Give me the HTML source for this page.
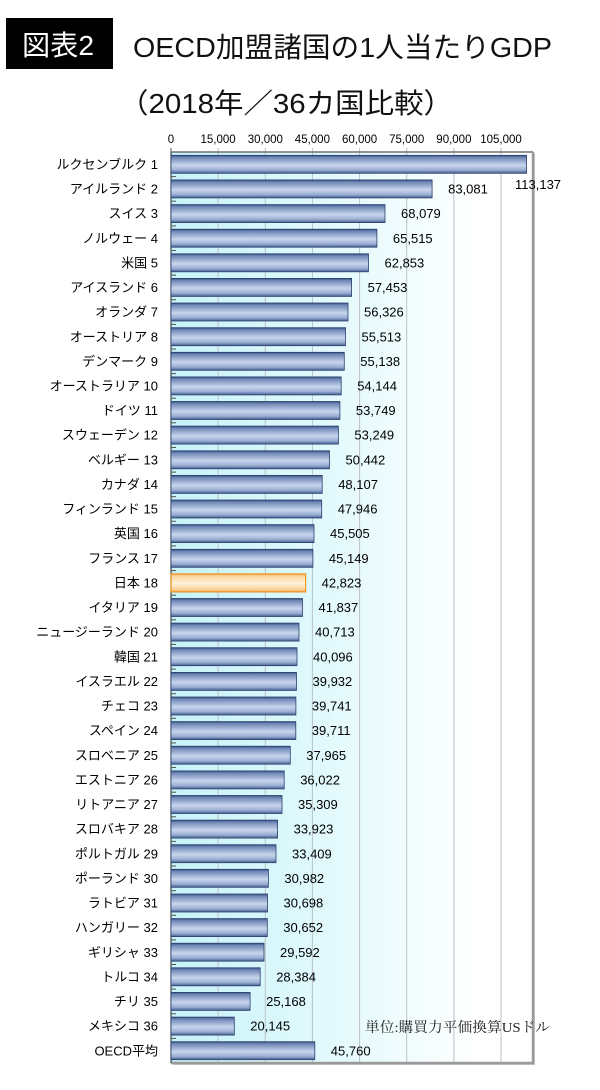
<!DOCTYPE html>
<html>
<head>
<meta charset="utf-8">
<style>
html,body{margin:0;padding:0;background:#fff;}
svg{display:block;}
.cat{font-family:"Liberation Sans","Noto Sans CJK JP",sans-serif;font-size:13px;fill:#000;}
.val{font-family:"Liberation Sans","Noto Sans CJK JP",sans-serif;font-size:13px;fill:#000;}
.ax{font-family:"Liberation Sans",sans-serif;font-size:11.5px;fill:#000;}
</style>
</head>
<body>
<svg width="600" height="1090" viewBox="0 0 600 1090" xmlns="http://www.w3.org/2000/svg">
<defs>
  <linearGradient id="bg" x1="0" y1="0" x2="1" y2="0">
    <stop offset="0" stop-color="#c6f3f9"/>
    <stop offset="0.55" stop-color="#eafbfd"/>
    <stop offset="0.85" stop-color="#ffffff"/>
    <stop offset="1" stop-color="#ffffff"/>
  </linearGradient>
  <linearGradient id="bar" x1="0" y1="0" x2="0" y2="1">
    <stop offset="0" stop-color="#34507f"/>
    <stop offset="0.12" stop-color="#7088b6"/>
    <stop offset="0.55" stop-color="#c8d5ed"/>
    <stop offset="0.82" stop-color="#9aaed3"/>
    <stop offset="1" stop-color="#445e8f"/>
  </linearGradient>
  <linearGradient id="jp" x1="0" y1="0" x2="0" y2="1">
    <stop offset="0" stop-color="#f4b060"/>
    <stop offset="0.15" stop-color="#fcd9a6"/>
    <stop offset="0.55" stop-color="#fff0da"/>
    <stop offset="0.85" stop-color="#fcd49c"/>
    <stop offset="1" stop-color="#f2aa58"/>
  </linearGradient>
</defs>

<!-- Header -->
<rect x="6" y="18" width="107" height="51" fill="#000"/>
<text x="22" y="55" font-family="'Liberation Sans','Noto Sans CJK JP',sans-serif" font-size="28" fill="#fff" textLength="72" lengthAdjust="spacingAndGlyphs">図表2</text>
<text x="133" y="57" font-family="'Liberation Sans','Noto Sans CJK JP',sans-serif" font-size="28" fill="#111" textLength="419" lengthAdjust="spacingAndGlyphs">OECD加盟諸国の1人当たりGDP</text>
<text x="119" y="113" font-family="'Liberation Sans','Noto Sans CJK JP',sans-serif" font-size="28" fill="#111" textLength="334" lengthAdjust="spacingAndGlyphs">（2018年／36カ国比較）</text>

<!-- Plot area -->
<rect x="173" y="154" width="362" height="911" fill="#c8c8c8"/>
<rect x="171" y="152" width="362" height="911" fill="url(#bg)"/>

<!-- gridlines -->
<g stroke="#b9c2c6" stroke-width="1">
  <line x1="218.1" y1="148" x2="218.1" y2="1063"/>
  <line x1="265.3" y1="148" x2="265.3" y2="1063"/>
  <line x1="312.4" y1="148" x2="312.4" y2="1063"/>
  <line x1="359.6" y1="148" x2="359.6" y2="1063"/>
  <line x1="406.7" y1="148" x2="406.7" y2="1063"/>
  <line x1="453.9" y1="148" x2="453.9" y2="1063"/>
  <line x1="501.0" y1="148" x2="501.0" y2="1063"/>
</g>
<line x1="171" y1="148" x2="171" y2="152" stroke="#555" stroke-width="1"/>

<!-- borders -->
<line x1="171" y1="152" x2="533" y2="152" stroke="#555" stroke-width="1.2"/>
<line x1="533" y1="152" x2="533" y2="1064" stroke="#9a9a9a" stroke-width="2.5"/>
<line x1="171" y1="1063" x2="534" y2="1063" stroke="#9a9a9a" stroke-width="2.5"/>
<line x1="171" y1="152" x2="171" y2="1063" stroke="#444" stroke-width="1.2"/>

<!-- left ticks -->
<g stroke="#555" stroke-width="1">
<line x1="171" y1="176.6" x2="176" y2="176.6"/>
<line x1="171" y1="201.2" x2="176" y2="201.2"/>
<line x1="171" y1="225.9" x2="176" y2="225.9"/>
<line x1="171" y1="250.5" x2="176" y2="250.5"/>
<line x1="171" y1="275.1" x2="176" y2="275.1"/>
<line x1="171" y1="299.7" x2="176" y2="299.7"/>
<line x1="171" y1="324.4" x2="176" y2="324.4"/>
<line x1="171" y1="349.0" x2="176" y2="349.0"/>
<line x1="171" y1="373.6" x2="176" y2="373.6"/>
<line x1="171" y1="398.2" x2="176" y2="398.2"/>
<line x1="171" y1="422.8" x2="176" y2="422.8"/>
<line x1="171" y1="447.5" x2="176" y2="447.5"/>
<line x1="171" y1="472.1" x2="176" y2="472.1"/>
<line x1="171" y1="496.7" x2="176" y2="496.7"/>
<line x1="171" y1="521.3" x2="176" y2="521.3"/>
<line x1="171" y1="545.9" x2="176" y2="545.9"/>
<line x1="171" y1="570.6" x2="176" y2="570.6"/>
<line x1="171" y1="595.2" x2="176" y2="595.2"/>
<line x1="171" y1="619.8" x2="176" y2="619.8"/>
<line x1="171" y1="644.4" x2="176" y2="644.4"/>
<line x1="171" y1="669.1" x2="176" y2="669.1"/>
<line x1="171" y1="693.7" x2="176" y2="693.7"/>
<line x1="171" y1="718.3" x2="176" y2="718.3"/>
<line x1="171" y1="742.9" x2="176" y2="742.9"/>
<line x1="171" y1="767.5" x2="176" y2="767.5"/>
<line x1="171" y1="792.2" x2="176" y2="792.2"/>
<line x1="171" y1="816.8" x2="176" y2="816.8"/>
<line x1="171" y1="841.4" x2="176" y2="841.4"/>
<line x1="171" y1="866.0" x2="176" y2="866.0"/>
<line x1="171" y1="890.7" x2="176" y2="890.7"/>
<line x1="171" y1="915.3" x2="176" y2="915.3"/>
<line x1="171" y1="939.9" x2="176" y2="939.9"/>
<line x1="171" y1="964.5" x2="176" y2="964.5"/>
<line x1="171" y1="989.1" x2="176" y2="989.1"/>
<line x1="171" y1="1013.8" x2="176" y2="1013.8"/>
<line x1="171" y1="1038.4" x2="176" y2="1038.4"/>
</g>

<!-- axis labels -->
<g class="ax" text-anchor="middle">
<text x="171" y="143">0</text>
<text x="218.1" y="143">15,000</text>
<text x="265.3" y="143">30,000</text>
<text x="312.4" y="143">45,000</text>
<text x="359.6" y="143">60,000</text>
<text x="406.7" y="143">75,000</text>
<text x="453.9" y="143">90,000</text>
<text x="501.0" y="143">105,000</text>
</g>

<!-- rows -->
<g stroke="#2b4170" stroke-width="0.8">
<rect x="171" y="155.3" width="355.6" height="18" fill="url(#bar)"/>
<rect x="171" y="179.9" width="261.1" height="18" fill="url(#bar)"/>
<rect x="171" y="204.6" width="214.0" height="18" fill="url(#bar)"/>
<rect x="171" y="229.2" width="205.9" height="18" fill="url(#bar)"/>
<rect x="171" y="253.8" width="197.5" height="18" fill="url(#bar)"/>
<rect x="171" y="278.4" width="180.6" height="18" fill="url(#bar)"/>
<rect x="171" y="303.0" width="177.0" height="18" fill="url(#bar)"/>
<rect x="171" y="327.7" width="174.5" height="18" fill="url(#bar)"/>
<rect x="171" y="352.3" width="173.3" height="18" fill="url(#bar)"/>
<rect x="171" y="376.9" width="170.2" height="18" fill="url(#bar)"/>
<rect x="171" y="401.5" width="168.9" height="18" fill="url(#bar)"/>
<rect x="171" y="426.1" width="167.4" height="18" fill="url(#bar)"/>
<rect x="171" y="450.8" width="158.5" height="18" fill="url(#bar)"/>
<rect x="171" y="475.4" width="151.2" height="18" fill="url(#bar)"/>
<rect x="171" y="500.0" width="150.7" height="18" fill="url(#bar)"/>
<rect x="171" y="524.6" width="143.0" height="18" fill="url(#bar)"/>
<rect x="171" y="549.3" width="141.9" height="18" fill="url(#bar)"/>
<rect x="171" y="598.5" width="131.5" height="18" fill="url(#bar)"/>
<rect x="171" y="623.1" width="128.0" height="18" fill="url(#bar)"/>
<rect x="171" y="647.7" width="126.0" height="18" fill="url(#bar)"/>
<rect x="171" y="672.4" width="125.5" height="18" fill="url(#bar)"/>
<rect x="171" y="697.0" width="124.9" height="18" fill="url(#bar)"/>
<rect x="171" y="721.6" width="124.8" height="18" fill="url(#bar)"/>
<rect x="171" y="746.2" width="119.3" height="18" fill="url(#bar)"/>
<rect x="171" y="770.9" width="113.2" height="18" fill="url(#bar)"/>
<rect x="171" y="795.5" width="111.0" height="18" fill="url(#bar)"/>
<rect x="171" y="820.1" width="106.6" height="18" fill="url(#bar)"/>
<rect x="171" y="844.7" width="105.0" height="18" fill="url(#bar)"/>
<rect x="171" y="869.3" width="97.4" height="18" fill="url(#bar)"/>
<rect x="171" y="894.0" width="96.5" height="18" fill="url(#bar)"/>
<rect x="171" y="918.6" width="96.3" height="18" fill="url(#bar)"/>
<rect x="171" y="943.2" width="93.0" height="18" fill="url(#bar)"/>
<rect x="171" y="967.8" width="89.2" height="18" fill="url(#bar)"/>
<rect x="171" y="992.4" width="79.1" height="18" fill="url(#bar)"/>
<rect x="171" y="1017.1" width="63.3" height="18" fill="url(#bar)"/>
<rect x="171" y="1041.7" width="143.8" height="18" fill="url(#bar)"/>
</g>
<rect x="171" y="573.9" width="134.6" height="18" fill="url(#jp)" stroke="#ec9420" stroke-width="1.2"/>

<!-- category labels -->
<g class="cat" text-anchor="end">
<text x="158" y="168.9">ルクセンブルク 1</text>
<text x="158" y="193.5">アイルランド 2</text>
<text x="158" y="218.2">スイス 3</text>
<text x="158" y="242.8">ノルウェー 4</text>
<text x="158" y="267.4">米国 5</text>
<text x="158" y="292.0">アイスランド 6</text>
<text x="158" y="316.6">オランダ 7</text>
<text x="158" y="341.3">オーストリア 8</text>
<text x="158" y="365.9">デンマーク 9</text>
<text x="158" y="390.5">オーストラリア 10</text>
<text x="158" y="415.1">ドイツ 11</text>
<text x="158" y="439.7">スウェーデン 12</text>
<text x="158" y="464.4">ベルギー 13</text>
<text x="158" y="489.0">カナダ 14</text>
<text x="158" y="513.6">フィンランド 15</text>
<text x="158" y="538.2">英国 16</text>
<text x="158" y="562.9">フランス 17</text>
<text x="158" y="587.5">日本 18</text>
<text x="158" y="612.1">イタリア 19</text>
<text x="158" y="636.7">ニュージーランド 20</text>
<text x="158" y="661.3">韓国 21</text>
<text x="158" y="686.0">イスラエル 22</text>
<text x="158" y="710.6">チェコ 23</text>
<text x="158" y="735.2">スペイン 24</text>
<text x="158" y="759.8">スロベニア 25</text>
<text x="158" y="784.5">エストニア 26</text>
<text x="158" y="809.1">リトアニア 27</text>
<text x="158" y="833.7">スロバキア 28</text>
<text x="158" y="858.3">ポルトガル 29</text>
<text x="158" y="882.9">ポーランド 30</text>
<text x="158" y="907.6">ラトビア 31</text>
<text x="158" y="932.2">ハンガリー 32</text>
<text x="158" y="956.8">ギリシャ 33</text>
<text x="158" y="981.4">トルコ 34</text>
<text x="158" y="1006.0">チリ 35</text>
<text x="158" y="1030.7">メキシコ 36</text>
<text x="158" y="1055.3">OECD平均</text>
</g>

<!-- value labels -->
<g class="val">
<text x="515" y="189">113,137</text>
<text x="448.1" y="193.5">83,081</text>
<text x="401.0" y="218.2">68,079</text>
<text x="392.9" y="242.8">65,515</text>
<text x="384.5" y="267.4">62,853</text>
<text x="367.6" y="292.0">57,453</text>
<text x="364.0" y="316.6">56,326</text>
<text x="361.5" y="341.3">55,513</text>
<text x="360.3" y="365.9">55,138</text>
<text x="357.2" y="390.5">54,144</text>
<text x="355.9" y="415.1">53,749</text>
<text x="354.4" y="439.7">53,249</text>
<text x="345.5" y="464.4">50,442</text>
<text x="338.2" y="489.0">48,107</text>
<text x="337.7" y="513.6">47,946</text>
<text x="330.0" y="538.2">45,505</text>
<text x="328.9" y="562.9">45,149</text>
<text x="321.6" y="587.5">42,823</text>
<text x="318.5" y="612.1">41,837</text>
<text x="315.0" y="636.7">40,713</text>
<text x="313.0" y="661.3">40,096</text>
<text x="312.5" y="686.0">39,932</text>
<text x="311.9" y="710.6">39,741</text>
<text x="311.8" y="735.2">39,711</text>
<text x="306.3" y="759.8">37,965</text>
<text x="300.2" y="784.5">36,022</text>
<text x="298.0" y="809.1">35,309</text>
<text x="293.6" y="833.7">33,923</text>
<text x="292.0" y="858.3">33,409</text>
<text x="284.4" y="882.9">30,982</text>
<text x="283.5" y="907.6">30,698</text>
<text x="283.3" y="932.2">30,652</text>
<text x="280.0" y="956.8">29,592</text>
<text x="276.2" y="981.4">28,384</text>
<text x="266.1" y="1006.0">25,168</text>
<text x="250.3" y="1030.7">20,145</text>
<text x="330.8" y="1055.3">45,760</text>
</g>

<!-- unit note -->
<text x="365" y="1032" font-family="'Liberation Serif','Noto Serif CJK SC',serif" font-size="14" fill="#222" textLength="185" lengthAdjust="spacingAndGlyphs">単位:購買力平価換算USドル</text>
</svg>
</body>
</html>
